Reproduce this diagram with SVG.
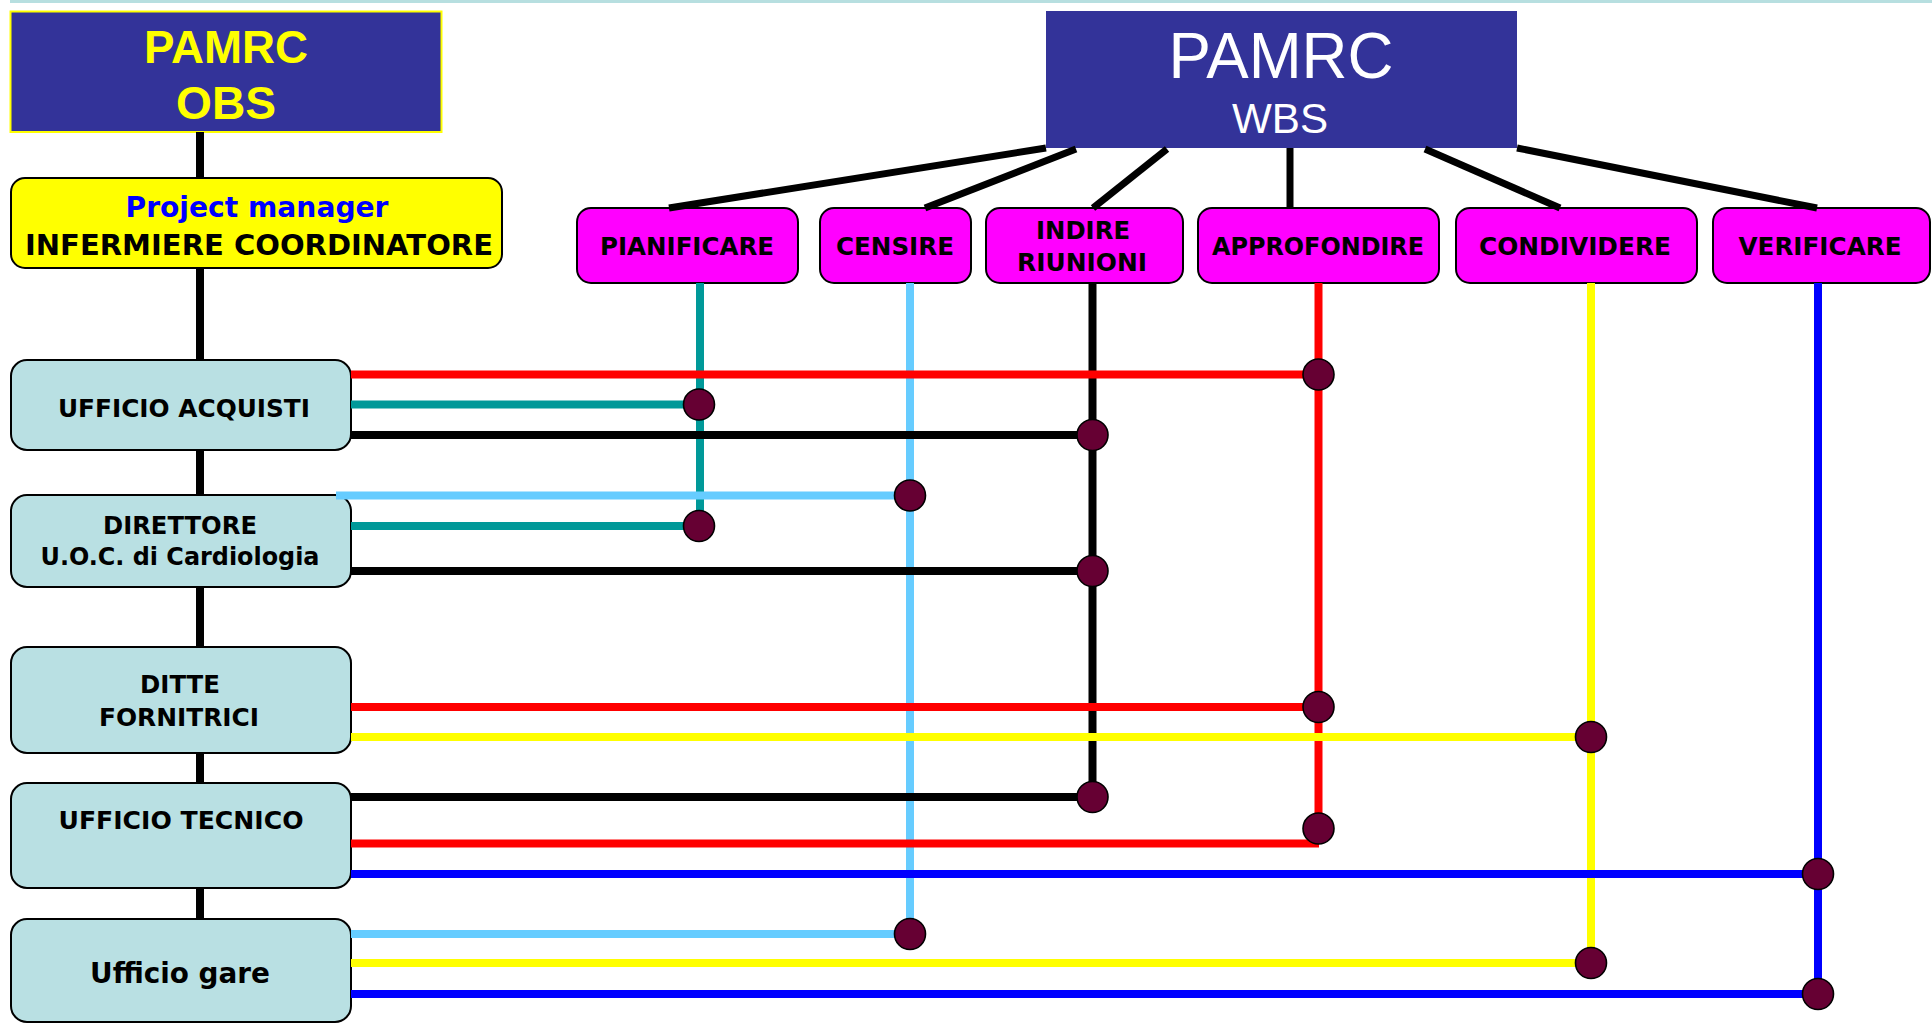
<svg xmlns="http://www.w3.org/2000/svg" width="1932" height="1024" viewBox="0 0 1932 1024">
<style>
.hdr{fill:#333399}
.mag{fill:#ff00ff;stroke:#000;stroke-width:2}
.org{fill:#b9e0e3;stroke:#000;stroke-width:2}
.t{font-family:"DejaVu Sans",Verdana,sans-serif;font-weight:bold;fill:#000;text-anchor:middle}
.a{font-family:"Liberation Sans",Arial,sans-serif;text-anchor:middle}
.ln{fill:none;stroke-width:8}
.k{stroke:#000}
.r{stroke:#ff0000}
.tl{stroke:#009999}
.lb{stroke:#66ccff}
.y{stroke:#ffff00}
.b{stroke:#0000ff}
.w{stroke:#000;stroke-width:7;fill:none}
.dot{fill:#660033;stroke:#000;stroke-width:1.6}
</style>
<rect x="10" y="0" width="1922" height="3" fill="#b7dfe0"/>

<g id="obs">
<rect x="10.5" y="11.5" width="431" height="120.5" class="hdr" stroke="#ffff00" stroke-width="2"/>
<text x="226" y="63" class="a" font-size="47" font-weight="bold" fill="#ffff00" textLength="164" lengthAdjust="spacingAndGlyphs">PAMRC</text>
<text x="226" y="119" class="a" font-size="47" font-weight="bold" fill="#ffff00" textLength="100" lengthAdjust="spacingAndGlyphs">OBS</text>
</g>

<g id="wbs">
<rect x="1046" y="11" width="471" height="137" class="hdr"/>
<text x="1281" y="78" class="a" font-size="64" fill="#ffffff" textLength="225" lengthAdjust="spacingAndGlyphs">PAMRC</text>
<text x="1280" y="133" class="a" font-size="42" fill="#ffffff" textLength="96" lengthAdjust="spacingAndGlyphs">WBS</text>
</g>

<g id="pm">
<rect x="11" y="178" width="491" height="90" rx="14" fill="#ffff00" stroke="#000" stroke-width="2"/>
<text x="257" y="217" class="t" font-size="28" style="fill:#0000ff" textLength="263" lengthAdjust="spacingAndGlyphs">Project manager</text>
<text x="259" y="255" class="t" font-size="29" textLength="468" lengthAdjust="spacingAndGlyphs">INFERMIERE COORDINATORE</text>
</g>

<g id="pianificare">
<rect x="577" y="208" width="221" height="75" rx="14" class="mag"/>
<text x="687" y="255" class="t" font-size="24" textLength="174" lengthAdjust="spacingAndGlyphs">PIANIFICARE</text>
</g>
<g id="censire">
<rect x="820" y="208" width="151" height="75" rx="14" class="mag"/>
<text x="895" y="255" class="t" font-size="24" textLength="118" lengthAdjust="spacingAndGlyphs">CENSIRE</text>
</g>
<g id="indire">
<rect x="986" y="208" width="197" height="75" rx="14" class="mag"/>
<text x="1083" y="239" class="t" font-size="24" textLength="94" lengthAdjust="spacingAndGlyphs">INDIRE</text>
<text x="1082" y="271" class="t" font-size="24" textLength="130" lengthAdjust="spacingAndGlyphs">RIUNIONI</text>
</g>
<g id="approfondire">
<rect x="1198" y="208" width="241" height="75" rx="14" class="mag"/>
<text x="1318" y="255" class="t" font-size="24" textLength="212" lengthAdjust="spacingAndGlyphs">APPROFONDIRE</text>
</g>
<g id="condividere">
<rect x="1456" y="208" width="241" height="75" rx="14" class="mag"/>
<text x="1575" y="255" class="t" font-size="24" textLength="192" lengthAdjust="spacingAndGlyphs">CONDIVIDERE</text>
</g>
<g id="verificare">
<rect x="1713" y="208" width="217" height="75" rx="14" class="mag"/>
<text x="1820" y="255" class="t" font-size="24" textLength="163" lengthAdjust="spacingAndGlyphs">VERIFICARE</text>
</g>

<g id="ufficio-acquisti">
<rect x="11" y="360" width="340" height="90" rx="16" class="org"/>
<text x="184" y="417" class="t" font-size="24" textLength="252" lengthAdjust="spacingAndGlyphs">UFFICIO ACQUISTI</text>
</g>
<g id="direttore">
<rect x="11" y="495" width="340" height="92" rx="16" class="org"/>
<text x="180" y="534" class="t" font-size="24" textLength="154" lengthAdjust="spacingAndGlyphs">DIRETTORE</text>
<text x="180" y="565" class="t" font-size="24" textLength="279" lengthAdjust="spacingAndGlyphs">U.O.C. di Cardiologia</text>
</g>
<g id="ditte">
<rect x="11" y="647" width="340" height="106" rx="16" class="org"/>
<text x="180" y="693" class="t" font-size="24" textLength="80" lengthAdjust="spacingAndGlyphs">DITTE</text>
<text x="179" y="726" class="t" font-size="24" textLength="160" lengthAdjust="spacingAndGlyphs">FORNITRICI</text>
</g>
<g id="ufficio-tecnico">
<rect x="11" y="783" width="340" height="105" rx="16" class="org"/>
<text x="181" y="829" class="t" font-size="24" textLength="245" lengthAdjust="spacingAndGlyphs">UFFICIO TECNICO</text>
</g>
<g id="ufficio-gare">
<rect x="11" y="919" width="340" height="103" rx="16" class="org"/>
<text x="180" y="983" class="t" font-size="29" textLength="180" lengthAdjust="spacingAndGlyphs">Ufficio gare</text>
</g>

<g id="connectors">
<g class="ln k" stroke-width="6">
<line x1="200" y1="132" x2="200" y2="178"/>
<line x1="200" y1="268" x2="200" y2="360"/>
<line x1="200" y1="450" x2="200" y2="495"/>
<line x1="200" y1="587" x2="200" y2="647"/>
<line x1="200" y1="753" x2="200" y2="783"/>
<line x1="200" y1="888" x2="200" y2="919"/>
</g>
<g class="w">
<line x1="1046" y1="148" x2="669" y2="208"/>
<line x1="1076" y1="149" x2="925" y2="208"/>
<line x1="1167" y1="149" x2="1093" y2="208"/>
<line x1="1290" y1="148" x2="1290" y2="208"/>
<line x1="1425" y1="149" x2="1560" y2="208"/>
<line x1="1517" y1="148" x2="1817" y2="208"/>
</g>
<line class="ln tl" x1="700" y1="283" x2="700" y2="526"/>
<line class="ln lb" x1="910" y1="283" x2="910" y2="934"/>
<line class="ln k" x1="1092.5" y1="283" x2="1092.5" y2="797"/>
<line class="ln r" x1="1318.5" y1="283" x2="1318.5" y2="828"/>
<line class="ln y" x1="1591" y1="283" x2="1591" y2="963"/>
<line class="ln b" x1="1818" y1="283" x2="1818" y2="994"/>

<line class="ln r" x1="351" y1="374.5" x2="1318.5" y2="374.5"/>
<line class="ln tl" x1="351" y1="404.5" x2="699" y2="404.5"/>
<line class="ln k" x1="351" y1="435" x2="1092.5" y2="435"/>
<line class="ln lb" x1="336" y1="495.5" x2="910" y2="495.5"/>
<line class="ln tl" x1="351" y1="526" x2="699" y2="526"/>
<line class="ln k" x1="351" y1="571" x2="1092.5" y2="571"/>
<line class="ln r" x1="351" y1="707" x2="1318.5" y2="707"/>
<line class="ln y" x1="351" y1="737" x2="1591" y2="737"/>
<line class="ln k" x1="351" y1="797" x2="1092.5" y2="797"/>
<line class="ln r" x1="351" y1="843.5" x2="1319" y2="843.5"/>
<line class="ln b" x1="351" y1="874" x2="1818" y2="874"/>
<line class="ln lb" x1="351" y1="934" x2="910" y2="934"/>
<line class="ln y" x1="351" y1="963" x2="1591" y2="963"/>
<line class="ln b" x1="351" y1="994" x2="1818" y2="994"/>

<g class="dot">
<circle cx="699" cy="404.5" r="15.5"/>
<circle cx="699" cy="526" r="15.5"/>
<circle cx="910" cy="495.5" r="15.5"/>
<circle cx="910" cy="934" r="15.5"/>
<circle cx="1092.5" cy="435" r="15.5"/>
<circle cx="1092.5" cy="571" r="15.5"/>
<circle cx="1092.5" cy="797" r="15.5"/>
<circle cx="1318.5" cy="374.5" r="15.5"/>
<circle cx="1318.5" cy="707" r="15.5"/>
<circle cx="1318.5" cy="828.5" r="15.5"/>
<circle cx="1591" cy="737" r="15.5"/>
<circle cx="1591" cy="963" r="15.5"/>
<circle cx="1818" cy="874" r="15.5"/>
<circle cx="1818" cy="994" r="15.5"/>
</g>
</g>
</svg>
